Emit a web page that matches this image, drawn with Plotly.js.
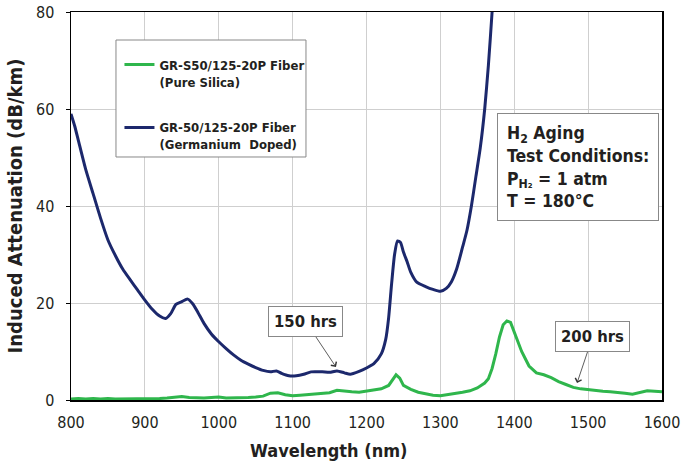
<!DOCTYPE html>
<html>
<head>
<meta charset="utf-8">
<script src="https://cdn.plot.ly/plotly-3.0.1.min.js"></script>
<style>html,body{margin:0;padding:0;background:#fff;}#chart{width:686px;height:462px;}</style>
</head>
<body>
<div id="chart"></div>
<script>
// Germanium doped fiber (GR-50/125-20P)
var geWavelength = [800,805,810,820,830,840,850,860,870,880,890,900,910,920,928,935,942,950,958,965,972,980,990,1000,1010,1020,1030,1040,1050,1060,1070,1078,1085,1095,1105,1115,1125,1140,1150,1160,1170,1178,1190,1200,1210,1220,1226,1230,1234,1238,1242,1246,1250,1255,1260,1268,1280,1290,1300,1308,1315,1322,1330,1336,1342,1348,1354,1360,1365,1370,1375,1380];
var geAtten = [59,56.5,53.5,47.5,42.5,37.5,33,29.8,27,24.8,22.7,20.6,18.7,17.3,16.8,17.8,19.7,20.3,20.8,19.8,18,15.8,13.6,12,10.6,9.3,8.2,7.4,6.7,6.1,5.8,6.0,5.5,5.0,5.0,5.3,5.8,5.8,5.7,6.0,5.6,5.3,5.9,6.6,7.5,9.5,12.5,17,24,30,32.8,32.5,30.5,28.5,26.3,24.3,23.4,22.8,22.4,23.0,24.4,27,31.5,35,40,46,52,60,69,80,92,105];

// Pure silica fiber (GR-S50/125-20P)
var siWavelength = [800,810,820,830,840,850,860,870,880,890,900,910,920,930,940,950,960,970,980,990,1000,1010,1020,1030,1040,1050,1060,1070,1080,1090,1100,1110,1120,1130,1140,1150,1160,1170,1180,1190,1200,1210,1220,1230,1235,1240,1245,1250,1260,1270,1280,1290,1300,1310,1320,1330,1340,1350,1355,1360,1365,1370,1375,1380,1385,1390,1395,1400,1405,1410,1415,1420,1430,1440,1450,1460,1470,1480,1490,1500,1510,1520,1530,1540,1550,1560,1570,1580,1590,1600];
var siAtten = [0.2,0.3,0.2,0.3,0.2,0.3,0.2,0.2,0.3,0.2,0.2,0.3,0.3,0.4,0.6,0.7,0.5,0.4,0.4,0.5,0.6,0.4,0.4,0.5,0.5,0.6,0.8,1.4,1.5,1.1,0.9,1.0,1.1,1.2,1.3,1.5,2.0,1.8,1.7,1.6,1.8,2.0,2.3,3.0,4.2,5.2,4.5,3.0,2.2,1.6,1.3,1.0,0.9,1.1,1.3,1.6,1.9,2.5,3.0,3.5,4.4,6.5,9.5,13.0,15.5,16.3,16.0,14.0,12.0,10.0,8.5,7.0,5.6,5.2,4.6,3.8,3.2,2.6,2.3,2.1,1.9,1.8,1.7,1.6,1.4,1.2,1.5,1.9,1.8,1.7];

var xTicks = [800,900,1000,1100,1200,1300,1400,1500,1600];
var yTicks = [0,20,40,60,80];

var seriesNames = ['GR-S50/125-20P Fiber<br>(Pure Silica)', 'GR-50/125-20P Fiber<br>(Germanium  Doped)'];
var xTitle = 'Wavelength (nm)';
var yTitle = 'Induced Attenuation (dB/km)';
var conditionsText = 'H<sub>2</sub> Aging<br>Test Conditions:<br>P<sub>H₂</sub> = 1 atm<br>T = 180°C';
var label150 = '150 hrs';
var box150 = [1118, 16.1];
var tip150 = [1158.7, 6.8];
var label200 = '200 hrs';
var box200 = [1506, 13.0];
var tip200 = [1485, 3.5];

var FONT = '"Liberation Sans Narrow", "DejaVu Sans Condensed", sans-serif';
var INK = '#231f20';

var traces = [
  {x: siWavelength, y: siAtten, type: 'scatter', mode: 'lines', name: seriesNames[0],
   legendgroup: 'a', line: {color: '#2fb64c', width: 3}},
  {x: geWavelength, y: geAtten, type: 'scatter', mode: 'lines', name: seriesNames[1],
   legendgroup: 'b', line: {color: '#1c286c', width: 3, shape: 'spline', smoothing: 0.6}}
];

var layout = {
  width: 686, height: 462,
  margin: {l: 71, r: 24, t: 12, b: 62},
  paper_bgcolor: '#fff', plot_bgcolor: '#fff',
  font: {family: FONT, color: INK},
  showlegend: true,
  legend: {
    x: 0.082, y: 0.903, xanchor: 'left', yanchor: 'top',
    bgcolor: 'rgba(0,0,0,0)', borderwidth: 0,
    font: {family: FONT, size: 13, color: INK, weight: 'bold'},
    traceorder: 'grouped', tracegroupgap: 26, valign: 'top'
  },
  shapes: [
    {type: 'rect', xref: 'paper', yref: 'paper', x0: 0.0761, x1: 0.3976, y0: 0.6263, y1: 0.9278,
     line: {color: '#888', width: 1}, fillcolor: '#fff', layer: 'above'}
  ],
  xaxis: {
    range: [800, 1600], tickvals: xTicks, ticks: '', showgrid: true, gridcolor: '#cfcfcf',
    showline: true, linecolor: '#000', linewidth: 1.5, mirror: true, zeroline: false,
    tickfont: {size: 16, color: INK}, ticklabelstandoff: 7
  },
  yaxis: {
    range: [0, 80], tickvals: yTicks, ticks: 'outside', ticklen: 4, tickcolor: '#000',
    showgrid: true, gridcolor: '#cfcfcf',
    showline: true, linecolor: '#000', linewidth: 1.5, mirror: true, zeroline: false,
    tickfont: {size: 16, color: INK}, ticklabelstandoff: 8,
    title: {text: '<b>' + yTitle + '</b>', font: {size: 20}, standoff: 8}
  },
  annotations: [
    {xref: 'paper', yref: 'paper', x: 0.435, y: -0.129, xanchor: 'center', yanchor: 'middle',
     text: '<b>' + xTitle + '</b>', showarrow: false, font: {size: 18, color: INK}},
    {xref: 'paper', yref: 'paper', x: 0.7208, y: 0.7397, xanchor: 'left', yanchor: 'top',
     text: '<b>' + conditionsText + '</b>', align: 'left', showarrow: false,
     font: {size: 17.5, color: INK}, bgcolor: '#fff', bordercolor: '#888', borderwidth: 1, borderpad: 9},
    {xref: 'x', yref: 'y', x: tip150[0], y: tip150[1], axref: 'x', ayref: 'y', ax: box150[0], ay: box150[1],
     text: '<b>' + label150 + '</b>', showarrow: true, arrowhead: 4, arrowsize: 1.6, arrowwidth: 0.8, arrowcolor: '#333',
     font: {size: 16.5, color: INK}, bgcolor: '#fff', bordercolor: '#888', borderwidth: 1, borderpad: 5},
    {xref: 'x', yref: 'y', x: tip200[0], y: tip200[1], axref: 'x', ayref: 'y', ax: box200[0], ay: box200[1],
     text: '<b>' + label200 + '</b>', showarrow: true, arrowhead: 4, arrowsize: 1.6, arrowwidth: 0.8, arrowcolor: '#333',
     font: {size: 16.5, color: INK}, bgcolor: '#fff', bordercolor: '#888', borderwidth: 1, borderpad: 5}
  ]
};

Plotly.newPlot('chart', traces, layout, {displayModeBar: false, staticPlot: true});
</script>
</body>
</html>
